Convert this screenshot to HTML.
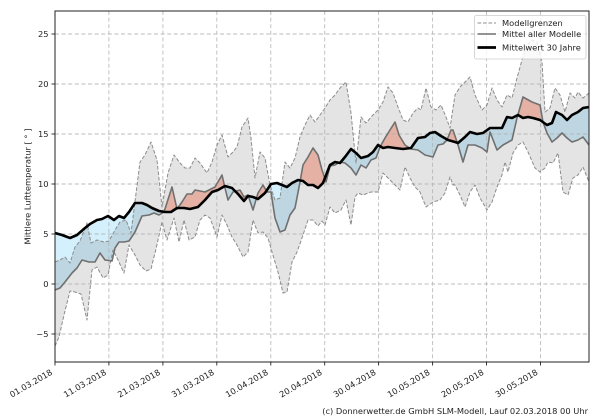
<!DOCTYPE html>
<html><head><meta charset="utf-8"><style>
html,body{margin:0;padding:0;background:#fff;}
svg{display:block;font-family:"DejaVu Sans","Liberation Sans",sans-serif;}
</style></head><body>
<svg width="600" height="420" viewBox="0 0 600 420" xmlns="http://www.w3.org/2000/svg">
<defs>
<clipPath id="ax"><rect x="55" y="11" width="534" height="351"/></clipPath>
<clipPath id="aboveC"><path d="M55,233 62,235 70,238 77,235 85,228 90,224 97,220 102,219 108,216 114,220 119,216 124,218 129,212 135,203 142,203 147,205 152,208 159,211 165,212 171,212 177,208 184,208 190,209 198,207 205,200 212,192 218,190 225,186 232,188 238,194 244,201 248,196 253,197 258,199 265,193 271,184 277,183 282,185 287,187 292,183 298,180 303,181 308,185 313,185 318,188 323,183 330,165 335,162 340,163 345,157 351,149 356,153 361,158 368,156 373,152 378,145 383,148 388,147 395,148 403,149 411,148 418,138 425,137 430,133 435,132 441,136 448,140 455,142 458,143 465,137 470,132 477,134 483,133 490,128 497,128 502,128 507,117 512,118 518,115 523,118 528,117 533,118 540,120 547,125 552,123 556,112 562,115 567,120 572,115 578,112 583,108 589,107 L600,107 600,0 40,0 40,233 Z"/></clipPath>
<clipPath id="belowC"><path d="M55,233 62,235 70,238 77,235 85,228 90,224 97,220 102,219 108,216 114,220 119,216 124,218 129,212 135,203 142,203 147,205 152,208 159,211 165,212 171,212 177,208 184,208 190,209 198,207 205,200 212,192 218,190 225,186 232,188 238,194 244,201 248,196 253,197 258,199 265,193 271,184 277,183 282,185 287,187 292,183 298,180 303,181 308,185 313,185 318,188 323,183 330,165 335,162 340,163 345,157 351,149 356,153 361,158 368,156 373,152 378,145 383,148 388,147 395,148 403,149 411,148 418,138 425,137 430,133 435,132 441,136 448,140 455,142 458,143 465,137 470,132 477,134 483,133 490,128 497,128 502,128 507,117 512,118 518,115 523,118 528,117 533,118 540,120 547,125 552,123 556,112 562,115 567,120 572,115 578,112 583,108 589,107 L600,107 600,420 40,420 40,233 Z"/></clipPath>
<clipPath id="aboveL"><path d="M55,346 59,337 64,315 70,291 75,292 81,294 87,320 92,270 97,267 103,278 108,275 113,250 118,260 124,273 129,245 135,255 140,265 146,271 151,269 156,249 162,222 167,240 174,218 179,242 184,220 189,240 195,237 200,220 205,215 210,218 217,237 222,215 227,225 232,237 237,245 243,257 248,252 253,220 258,233 263,232 268,238 272,252 278,272 283,293 287,292 292,262 297,252 302,238 308,220 313,220 318,226 322,221 325,225 330,207 335,213 341,210 346,200 351,225 355,197 358,193 363,195 371,192 378,192 383,173 388,178 395,185 400,190 405,167 410,178 415,187 420,192 426,207 433,202 440,200 445,193 450,177 453,185 455,185 460,195 465,207 470,192 475,185 480,198 487,210 492,202 497,187 502,175 505,162 508,172 513,153 518,145 523,142 528,152 535,168 540,172 545,168 548,162 553,163 558,153 563,192 568,195 573,178 578,175 583,167 589,182 L600,182 600,0 40,0 40,346 Z"/></clipPath>
</defs>

<g clip-path="url(#ax)">
<!-- red: below M, above C -->
<path clip-path="url(#aboveC)" fill="#ffc6b8" d="M55,290 60,288 65,282 72,273 77,268 82,260 89,262 95,262 100,253 105,260 112,261 115,248 119,242 124,242 129,241 135,232 142,216 149,215 154,213 159,215 164,212 172,187 177,209 182,202 187,194 192,194 195,190 205,192 215,187 222,175 225,188 228,200 233,192 240,190 244,197 248,195 253,210 258,193 263,185 267,192 271,192 275,218 280,232 285,230 290,215 295,208 300,182 303,165 308,157 313,148 318,155 322,170 326,182 330,166 335,165 340,162 345,163 351,168 356,175 361,165 366,168 371,160 376,158 380,147 385,138 390,130 395,122 399,135 405,145 411,149 418,150 425,155 433,157 438,145 443,144 447,140 451,130 453,130 458,145 463,162 468,145 475,145 482,148 487,152 490,132 497,150 503,145 512,140 517,118 523,97 532,102 540,105 543,122 547,133 552,142 557,138 562,133 567,138 572,142 578,140 583,137 589,145 L600,145 600,420 40,420 40,290 Z"/>
<!-- blue: above M, below C -->
<path clip-path="url(#belowC)" fill="#d4f0fc" d="M55,290 60,288 65,282 72,273 77,268 82,260 89,262 95,262 100,253 105,260 112,261 115,248 119,242 124,242 129,241 135,232 142,216 149,215 154,213 159,215 164,212 172,187 177,209 182,202 187,194 192,194 195,190 205,192 215,187 222,175 225,188 228,200 233,192 240,190 244,197 248,195 253,210 258,193 263,185 267,192 271,192 275,218 280,232 285,230 290,215 295,208 300,182 303,165 308,157 313,148 318,155 322,170 326,182 330,166 335,165 340,162 345,163 351,168 356,175 361,165 366,168 371,160 376,158 380,147 385,138 390,130 395,122 399,135 405,145 411,149 418,150 425,155 433,157 438,145 443,144 447,140 451,130 453,130 458,145 463,162 468,145 475,145 482,148 487,152 490,132 497,150 503,145 512,140 517,118 523,97 532,102 540,105 543,122 547,133 552,142 557,138 562,133 567,138 572,142 578,140 583,137 589,145 L600,145 600,0 40,0 40,290 Z"/>
<!-- gray band: below U, above L -->
<path clip-path="url(#aboveL)" fill="#000" fill-opacity="0.105" d="M55,262 60,260 65,257 70,263 75,247 80,241 87,223 91,243 97,240 104,242 109,241 115,230 120,222 126,220 131,233 140,162 145,155 151,142 157,160 162,207 168,173 174,155 180,163 185,168 190,168 195,158 200,163 207,173 212,162 217,145 222,135 228,157 232,153 237,147 242,127 248,118 251,138 255,178 260,152 265,158 270,185 275,200 280,198 285,162 290,168 295,158 300,137 305,125 310,115 315,122 320,115 325,108 330,100 335,95 340,88 346,82 351,113 356,163 361,117 366,123 373,115 378,110 383,102 388,87 393,93 398,107 403,120 408,122 413,113 418,108 421,110 426,88 431,107 436,110 441,105 446,117 450,128 455,95 460,87 465,82 470,77 475,95 482,110 487,105 492,88 497,100 502,107 507,95 512,98 517,78 522,60 527,45 532,40 537,42 542,62 545,112 550,108 555,88 560,95 565,112 570,93 575,98 578,92 583,98 589,93 L600,93 600,420 40,420 40,262 Z"/>

<!-- grid -->
<g stroke="#b0b0b0" stroke-width="0.9" stroke-dasharray="4,2.6" fill="none" opacity="0.85">
<line x1="55" y1="34" x2="589" y2="34"/><line x1="55" y1="84" x2="589" y2="84"/><line x1="55" y1="134" x2="589" y2="134"/><line x1="55" y1="184" x2="589" y2="184"/><line x1="55" y1="234" x2="589" y2="234"/><line x1="55" y1="284" x2="589" y2="284"/><line x1="55" y1="334" x2="589" y2="334"/>
<line x1="108.9" y1="11" x2="108.9" y2="362"/><line x1="162.9" y1="11" x2="162.9" y2="362"/><line x1="216.8" y1="11" x2="216.8" y2="362"/><line x1="270.8" y1="11" x2="270.8" y2="362"/><line x1="324.7" y1="11" x2="324.7" y2="362"/><line x1="378.6" y1="11" x2="378.6" y2="362"/><line x1="432.6" y1="11" x2="432.6" y2="362"/><line x1="486.5" y1="11" x2="486.5" y2="362"/><line x1="540.5" y1="11" x2="540.5" y2="362"/>
</g>

<!-- bounds dashed -->
<g fill="none" stroke="#8c8c8c" stroke-width="1" stroke-dasharray="3.7,1.8" stroke-linejoin="round">
<polyline points="55,262 60,260 65,257 70,263 75,247 80,241 87,223 91,243 97,240 104,242 109,241 115,230 120,222 126,220 131,233 140,162 145,155 151,142 157,160 162,207 168,173 174,155 180,163 185,168 190,168 195,158 200,163 207,173 212,162 217,145 222,135 228,157 232,153 237,147 242,127 248,118 251,138 255,178 260,152 265,158 270,185 275,200 280,198 285,162 290,168 295,158 300,137 305,125 310,115 315,122 320,115 325,108 330,100 335,95 340,88 346,82 351,113 356,163 361,117 366,123 373,115 378,110 383,102 388,87 393,93 398,107 403,120 408,122 413,113 418,108 421,110 426,88 431,107 436,110 441,105 446,117 450,128 455,95 460,87 465,82 470,77 475,95 482,110 487,105 492,88 497,100 502,107 507,95 512,98 517,78 522,60 527,45 532,40 537,42 542,62 545,112 550,108 555,88 560,95 565,112 570,93 575,98 578,92 583,98 589,93"/>
<polyline points="55,346 59,337 64,315 70,291 75,292 81,294 87,320 92,270 97,267 103,278 108,275 113,250 118,260 124,273 129,245 135,255 140,265 146,271 151,269 156,249 162,222 167,240 174,218 179,242 184,220 189,240 195,237 200,220 205,215 210,218 217,237 222,215 227,225 232,237 237,245 243,257 248,252 253,220 258,233 263,232 268,238 272,252 278,272 283,293 287,292 292,262 297,252 302,238 308,220 313,220 318,226 322,221 325,225 330,207 335,213 341,210 346,200 351,225 355,197 358,193 363,195 371,192 378,192 383,173 388,178 395,185 400,190 405,167 410,178 415,187 420,192 426,207 433,202 440,200 445,193 450,177 453,185 455,185 460,195 465,207 470,192 475,185 480,198 487,210 492,202 497,187 502,175 505,162 508,172 513,153 518,145 523,142 528,152 535,168 540,172 545,168 548,162 553,163 558,153 563,192 568,195 573,178 578,175 583,167 589,182"/>
</g>

<!-- model mean -->
<polyline fill="none" stroke="#707070" stroke-width="1.6" stroke-linejoin="round" points="55,290 60,288 65,282 72,273 77,268 82,260 89,262 95,262 100,253 105,260 112,261 115,248 119,242 124,242 129,241 135,232 142,216 149,215 154,213 159,215 164,212 172,187 177,209 182,202 187,194 192,194 195,190 205,192 215,187 222,175 225,188 228,200 233,192 240,190 244,197 248,195 253,210 258,193 263,185 267,192 271,192 275,218 280,232 285,230 290,215 295,208 300,182 303,165 308,157 313,148 318,155 322,170 326,182 330,166 335,165 340,162 345,163 351,168 356,175 361,165 366,168 371,160 376,158 380,147 385,138 390,130 395,122 399,135 405,145 411,149 418,150 425,155 433,157 438,145 443,144 447,140 451,130 453,130 458,145 463,162 468,145 475,145 482,148 487,152 490,132 497,150 503,145 512,140 517,118 523,97 532,102 540,105 543,122 547,133 552,142 557,138 562,133 567,138 572,142 578,140 583,137 589,145"/>
<!-- 30y mean -->
<polyline fill="none" stroke="#000" stroke-width="2.6" stroke-linejoin="round" points="55,233 62,235 70,238 77,235 85,228 90,224 97,220 102,219 108,216 114,220 119,216 124,218 129,212 135,203 142,203 147,205 152,208 159,211 165,212 171,212 177,208 184,208 190,209 198,207 205,200 212,192 218,190 225,186 232,188 238,194 244,201 248,196 253,197 258,199 265,193 271,184 277,183 282,185 287,187 292,183 298,180 303,181 308,185 313,185 318,188 323,183 330,165 335,162 340,163 345,157 351,149 356,153 361,158 368,156 373,152 378,145 383,148 388,147 395,148 403,149 411,148 418,138 425,137 430,133 435,132 441,136 448,140 455,142 458,143 465,137 470,132 477,134 483,133 490,128 497,128 502,128 507,117 512,118 518,115 523,118 528,117 533,118 540,120 547,125 552,123 556,112 562,115 567,120 572,115 578,112 583,108 589,107"/>
</g>

<!-- axes frame -->
<rect x="55" y="11" width="534" height="351" fill="none" stroke="#222" stroke-width="1"/>
<!-- ticks -->
<g stroke="#222" stroke-width="0.9">
<line x1="51.5" y1="34" x2="55" y2="34"/><line x1="51.5" y1="84" x2="55" y2="84"/><line x1="51.5" y1="134" x2="55" y2="134"/><line x1="51.5" y1="184" x2="55" y2="184"/><line x1="51.5" y1="234" x2="55" y2="234"/><line x1="51.5" y1="284" x2="55" y2="284"/><line x1="51.5" y1="334" x2="55" y2="334"/>
<line x1="55" y1="362" x2="55" y2="365.5"/><line x1="108.9" y1="362" x2="108.9" y2="365.5"/><line x1="162.9" y1="362" x2="162.9" y2="365.5"/><line x1="216.8" y1="362" x2="216.8" y2="365.5"/><line x1="270.8" y1="362" x2="270.8" y2="365.5"/><line x1="324.7" y1="362" x2="324.7" y2="365.5"/><line x1="378.6" y1="362" x2="378.6" y2="365.5"/><line x1="432.6" y1="362" x2="432.6" y2="365.5"/><line x1="486.5" y1="362" x2="486.5" y2="365.5"/><line x1="540.5" y1="362" x2="540.5" y2="365.5"/>
</g>

<g font-size="8.3" fill="#222" text-anchor="end">
<text x="48.5" y="37">25</text><text x="48.5" y="87">20</text><text x="48.5" y="137">15</text><text x="48.5" y="187">10</text><text x="48.5" y="237">5</text><text x="48.5" y="287">0</text><text x="48.5" y="337">−5</text>
</g>
<text font-size="8.3" fill="#222" text-anchor="middle" transform="translate(30.5,186.5) rotate(-90)">Mittlere Lufttemperatur [ ° ]</text>

<g font-size="8.3" fill="#222" text-anchor="end">
<text transform="translate(53,374) rotate(-30)">01.03.2018</text>
<text transform="translate(106.9,374) rotate(-30)">11.03.2018</text>
<text transform="translate(160.9,374) rotate(-30)">21.03.2018</text>
<text transform="translate(214.8,374) rotate(-30)">31.03.2018</text>
<text transform="translate(268.8,374) rotate(-30)">10.04.2018</text>
<text transform="translate(322.7,374) rotate(-30)">20.04.2018</text>
<text transform="translate(376.6,374) rotate(-30)">30.04.2018</text>
<text transform="translate(430.6,374) rotate(-30)">10.05.2018</text>
<text transform="translate(484.5,374) rotate(-30)">20.05.2018</text>
<text transform="translate(538.5,374) rotate(-30)">30.05.2018</text>
</g>

<!-- legend -->
<rect x="474.5" y="15.5" width="111.5" height="43.5" rx="2" ry="2" fill="#fff" fill-opacity="0.8" stroke="#ccc" stroke-width="0.8"/>
<line x1="477.5" y1="23" x2="496" y2="23" stroke="#8c8c8c" stroke-width="1" stroke-dasharray="3.7,1.8"/>
<line x1="477.5" y1="34" x2="496" y2="34" stroke="#707070" stroke-width="1.6"/>
<line x1="477.5" y1="47.5" x2="496" y2="47.5" stroke="#000" stroke-width="2.8"/>
<g font-size="8.3" fill="#222">
<text x="502" y="26">Modellgrenzen</text>
<text x="502" y="37">Mittel aller Modelle</text>
<text x="502" y="50.5">Mittelwert 30 Jahre</text>
</g>

<text x="588" y="414" font-size="8.3" fill="#222" text-anchor="end">(c) Donnerwetter.de GmbH SLM-Modell, Lauf 02.03.2018 00 Uhr</text>
</svg>
</body></html>
